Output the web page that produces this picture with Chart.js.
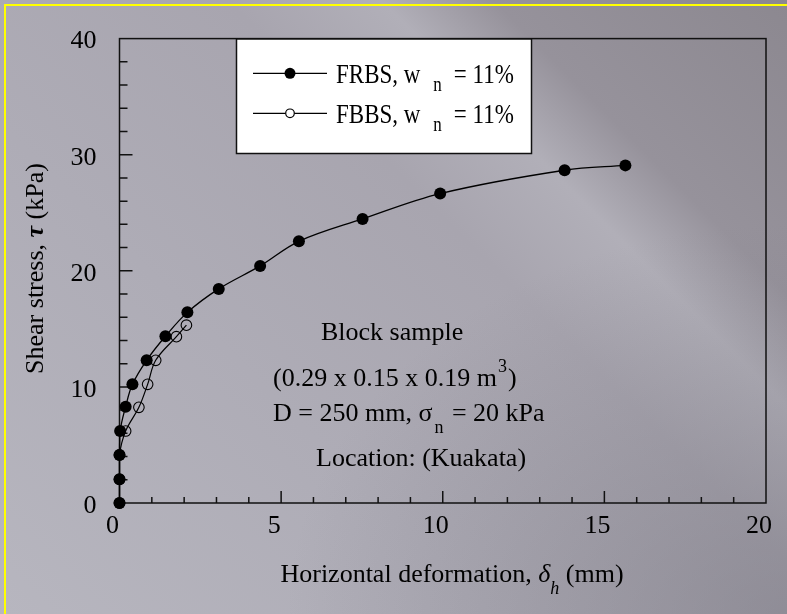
<!DOCTYPE html>
<html>
<head>
<meta charset="utf-8">
<script src="https://cdn.jsdelivr.net/npm/chart.js@4.4.1/dist/chart.umd.min.js"></script>
<style>
    html, body { margin: 0; padding: 0; }
    #wrap {
        position: relative;
        width: 787px;
        height: 614px;
        overflow: hidden;
        background:
            radial-gradient(ellipse at 100% 100%, rgba(112, 110, 120, 0.45), rgba(112, 110, 120, 0) 45%),
            linear-gradient(45deg, #b7b6bf 0%, #aeacb6 35%, #a8a5af 60%, #b1afb8 71%, #96929b 79%, #8c8890 100%);
    }
    #frame {
        position: absolute; left: 4px; top: 4px; width: 900px; height: 800px;
        border-left: 2px solid #ffff00; border-top: 2px solid #ffff00;
    }
    #box { position: absolute; left: 0; top: 0; width: 787px; height: 614px; }
</style>
</head>
<body>
<div id="wrap">
    <div id="frame"></div>
    <div id="box"><canvas id="chart"></canvas></div>
</div>
<script>
    // data (mm, kPa)
    const xFRBS = [0, 0, 0, 0.02, 0.19, 0.40, 0.84, 1.42, 2.10, 3.07, 4.35, 5.55, 7.52, 9.92, 13.77, 15.65];
    const yFRBS = [0, 2.04, 4.14, 6.2, 8.3, 10.22, 12.29, 14.36, 16.42, 18.44, 20.42, 22.54, 24.47, 26.65, 28.66, 29.08];
    const xFBBS = [0, 0, 0, 0.19, 0.60, 0.87, 1.12, 1.76, 2.07];
    const yFBBS = [0, 2.04, 4.14, 6.2, 8.24, 10.22, 12.29, 14.33, 15.32];

    const seriesNames = ['FRBS', 'FBBS'];
    const xTickLabels = [0, 5, 10, 15, 20];
    const yTickLabels = [0, 10, 20, 30, 40];
    const xMinorStep = 1;
    const yMinorStep = 2;

    const SERIF = '"Liberation Serif", "Times New Roman", serif';

    const toPoints = (xs, ys) => xs.map((v, i) => ({x: v, y: ys[i]}));

    // draws a row of text pieces: [text, font, dy, gapAfter]
    function drawPieces(ctx, x, y, pieces, sy) {
        sy = sy || 1;
        for (const p of pieces) {
            ctx.font = p[1];
            ctx.save();
            ctx.translate(x, y + (p[2] || 0));
            ctx.scale(1, sy);
            ctx.fillText(p[0], 0, 0);
            ctx.restore();
            x += ctx.measureText(p[0]).width + (p[3] || 0);
        }
    }

    const framePlugin = {
        id: 'frameTicks',
        beforeDatasetsDraw(chart) {
            const {ctx, chartArea: a, scales: {x, y}} = chart;
            ctx.save();
            ctx.strokeStyle = '#111';
            ctx.lineWidth = 1.5;
            ctx.strokeRect(a.left, a.top, a.right - a.left, a.bottom - a.top);
            ctx.beginPath();
            for (let v = x.min + xMinorStep; v < x.max; v += xMinorStep) {
                const px = x.getPixelForValue(v);
                const len = xTickLabels.includes(v) ? 12 : 6;
                ctx.moveTo(px, a.bottom);
                ctx.lineTo(px, a.bottom - len);
            }
            for (let v = y.min + yMinorStep; v < y.max; v += yMinorStep) {
                const py = y.getPixelForValue(v);
                const len = yTickLabels.includes(v) ? 13 : 8;
                ctx.moveTo(a.left, py);
                ctx.lineTo(a.left + len, py);
            }
            ctx.stroke();
            ctx.restore();
        },
        afterDraw(chart) {
            const ctx = chart.ctx;
            ctx.save();
            ctx.textBaseline = 'alphabetic';
            ctx.textAlign = 'left';

            // legend
            ctx.fillStyle = '#fff';
            ctx.fillRect(236.5, 39, 295, 114.5);
            ctx.strokeStyle = '#111';
            ctx.lineWidth = 1.5;
            ctx.strokeRect(236.5, 39, 295, 114.5);
            const rowsY = [73.3, 113.3];
            chart.data.datasets.forEach((ds, i) => {
                const ly = rowsY[i];
                ctx.beginPath();
                ctx.strokeStyle = '#000';
                ctx.lineWidth = 1.2;
                ctx.moveTo(253, ly);
                ctx.lineTo(327, ly);
                ctx.stroke();
                ctx.beginPath();
                ctx.arc(290, ly, i === 0 ? 5.5 : 4.3, 0, Math.PI * 2);
                if (i === 0) {
                    ctx.fillStyle = '#000';
                    ctx.fill();
                } else {
                    ctx.fillStyle = '#fff';
                    ctx.fill();
                    ctx.stroke();
                }
                ctx.fillStyle = '#000';
                drawPieces(ctx, 336, ly + 9.5, [
                    [ds.label + ', w', '23px ' + SERIF, 0, 13],
                    ['n', '17px ' + SERIF, 8, 12],
                    ['= 11%', '23px ' + SERIF, 0]
                ], 1.2);
            });

            // note text
            ctx.fillStyle = '#000';
            const f = '26px ' + SERIF;
            const fs = '18px ' + SERIF;
            drawPieces(ctx, 321, 340, [['Block sample', f]]);
            drawPieces(ctx, 273, 386, [['(0.29 x 0.15 x 0.19 m', f, 0, 1], ['3', fs, -14, 1], [')', f]]);
            drawPieces(ctx, 273, 421, [['D = 250 mm, \u03c3', f, 0, 2], ['n', fs, 12, 2], [' = 20 kPa', f]]);
            drawPieces(ctx, 316, 466, [['Location: (Kuakata)', f]]);

            // x title
            const xt = [
                ['Horizontal deformation, ', f],
                ['\u03b4', 'italic 26px ' + SERIF, 0, 0],
                ['h', 'italic 18px ' + SERIF, 12, 0],
                [' (mm)', f]
            ];
            let w = 0;
            xt.forEach(p => { ctx.font = p[1]; w += ctx.measureText(p[0]).width; });
            drawPieces(ctx, 452 - w / 2, 582, xt);

            // y title
            const yt = [
                ['Shear stress, ', f],
                ['\u03c4', 'italic bold 26px ' + SERIF],
                [' (kPa)', f]
            ];
            w = 0;
            yt.forEach(p => { ctx.font = p[1]; w += ctx.measureText(p[0]).width; });
            ctx.translate(43, 268.5);
            ctx.rotate(-Math.PI / 2);
            drawPieces(ctx, -w / 2, 0, yt);
            ctx.restore();
        }
    };

    const tickFont = {family: SERIF, size: 26};

    new Chart(document.getElementById('chart'), {
        type: 'scatter',
        data: {
            datasets: [
                {
                    label: seriesNames[0],
                    data: toPoints(xFRBS, yFRBS),
                    showLine: true,
                    borderColor: '#000',
                    borderWidth: 1.3,
                    tension: 0.35,
                    pointRadius: 6,
                    pointBackgroundColor: '#000',
                    pointBorderColor: '#000',
                    pointBorderWidth: 0,
                    clip: false,
                    order: 0
                },
                {
                    label: seriesNames[1],
                    data: toPoints(xFBBS, yFBBS),
                    showLine: true,
                    borderColor: '#000',
                    borderWidth: 1.2,
                    tension: 0.35,
                    pointRadius: 5.3,
                    pointBackgroundColor: 'rgba(0,0,0,0)',
                    pointBorderColor: '#000',
                    pointBorderWidth: 1.1,
                    clip: false,
                    order: 1
                }
            ]
        },
        options: {
            responsive: true,
            maintainAspectRatio: false,
            animation: false,
            layout: {padding: {left: 0, top: 32.3, right: 16.7, bottom: 0}},
            plugins: {legend: {display: false}, tooltip: {enabled: false}},
            scales: {
                x: {
                    type: 'linear',
                    min: 0,
                    max: 20,
                    ticks: {
                        stepSize: 5,
                        font: tickFont,
                        color: '#000',
                        padding: 8,
                        labelOffset: -7,
                        callback: v => xTickLabels.includes(v) ? String(v) : ''
                    },
                    grid: {display: false, drawTicks: false},
                    border: {display: false},
                    afterFit(scale) { scale.height = 111; }
                },
                y: {
                    type: 'linear',
                    min: 0,
                    max: 40,
                    ticks: {
                        stepSize: 10,
                        font: tickFont,
                        color: '#000',
                        padding: 23,
                        labelOffset: 3,
                        callback: v => yTickLabels.includes(v) ? String(v) : ''
                    },
                    grid: {display: false, drawTicks: false},
                    border: {display: false},
                    afterFit(scale) { scale.width = 119.5; }
                }
            }
        },
        plugins: [framePlugin]
    });
</script>
</body>
</html>
